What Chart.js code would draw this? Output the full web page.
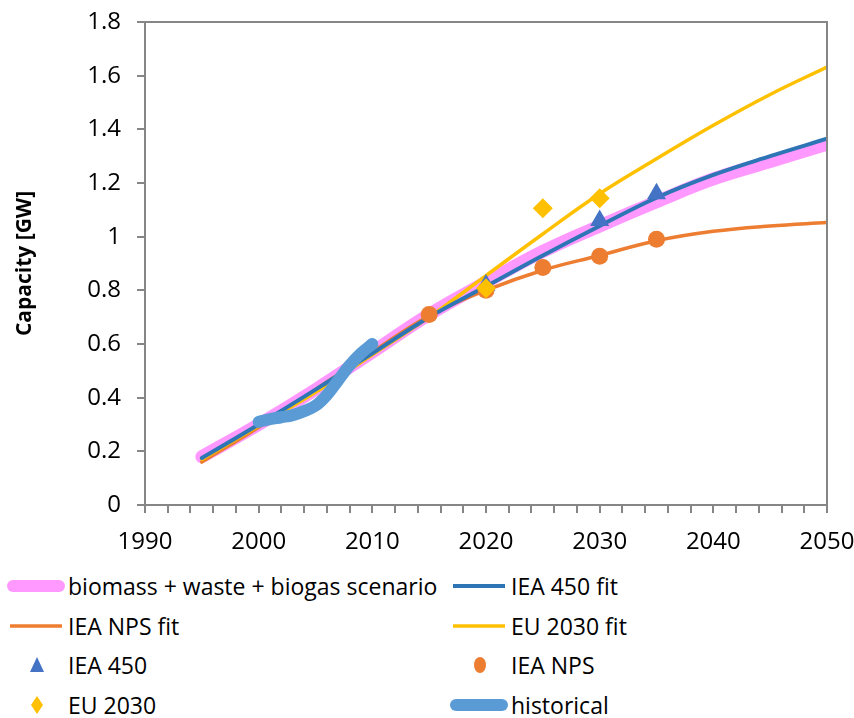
<!DOCTYPE html>
<html>
<head>
<meta charset="utf-8">
<script src="https://cdn.jsdelivr.net/npm/chart.js@4"></script>
<style>
  body { margin: 0; background: #fff; width: 854px; height: 718px; overflow: hidden; font-family: "Open Sans", sans-serif; }
  #wrap { position: absolute; left: 0; top: 0; width: 854px; height: 560px; }
  #legend { position: absolute; left: 0; top: 566px; width: 854px; }
  .item { position: absolute; height: 40px; display: flex; align-items: center; font-size: 23px; color: #000; white-space: nowrap; }
  .item svg { flex: none; }
</style>
</head>
<body>
<div id="wrap"><canvas id="c" width="854" height="560"></canvas></div>
<div id="legend"></div>
<script>
// fitted curves, 5 year steps
var years = [1995, 2000, 2005, 2010, 2015, 2020, 2025, 2030, 2035, 2040, 2045, 2050];
var scenario = [0.18, 0.30, 0.43, 0.57, 0.71, 0.83, 0.945, 1.04, 1.13, 1.215, 1.28, 1.345];
var iea450Fit = [0.175, 0.30, 0.43, 0.565, 0.70, 0.815, 0.93, 1.04, 1.145, 1.23, 1.30, 1.365];
var ieaNpsFit = [0.16, 0.29, 0.43, 0.57, 0.705, 0.80, 0.875, 0.93, 0.985, 1.02, 1.04, 1.053];
var eu2030Fit = [0.17, 0.295, 0.42, 0.56, 0.70, 0.855, 1.01, 1.16, 1.29, 1.415, 1.53, 1.632];

// scenario points
var iea450Years = [2020, 2030, 2035];
var iea450 = [0.82, 1.06, 1.16];
var ieaNpsYears = [2015, 2020, 2025, 2030, 2035];
var ieaNps = [0.71, 0.80, 0.885, 0.927, 0.99];
var eu2030Years = [2020, 2025, 2030];
var eu2030 = [0.808, 1.106, 1.143];

var histYears = [2000, 2001, 2002, 2003, 2004, 2005, 2006, 2007, 2008, 2009, 2010];
var historical = [0.31, 0.32, 0.327, 0.335, 0.35, 0.37, 0.41, 0.465, 0.52, 0.565, 0.60];

function pts(xs, ys) {
  return xs.map(function (x, i) { return { x: x, y: ys[i] }; });
}

var PINK = '#ff99ff', BLUE = '#2e75b6', ORANGE = '#ed7d31', YELLOW = '#ffc000', TRI = '#4472c4', HIST = '#5b9bd5';
var AXIS = '#868686';

var boxPlugin = {
  id: 'box',
  afterDatasetsDraw: function (chart) {
    var a = chart.chartArea, ctx = chart.ctx;
    ctx.save();
    ctx.strokeStyle = AXIS;
    ctx.lineWidth = 2;
    ctx.beginPath();
    ctx.moveTo(a.left, a.top);
    ctx.lineTo(a.right, a.top);
    ctx.lineTo(a.right, a.bottom);
    ctx.stroke();
    ctx.restore();
  }
};

function noOverflow(s) {
  s.paddingTop = 0; s.paddingBottom = 0; s.paddingLeft = 0; s.paddingRight = 0;
}

var lineDefaults = { pointRadius: 0, fill: false, tension: 0.4, borderCapStyle: 'round' };

new Chart(document.getElementById('c'), {
  type: 'line',
  data: {
    datasets: [
      Object.assign({ label: 'biomass + waste + biogas scenario', data: pts(years, scenario), borderColor: PINK, borderWidth: 13, order: 10 }, lineDefaults),
      Object.assign({ label: 'IEA 450 fit', data: pts(years, iea450Fit), borderColor: BLUE, borderWidth: 4, order: 6 }, lineDefaults),
      Object.assign({ label: 'IEA NPS fit', data: pts(years, ieaNpsFit), borderColor: ORANGE, borderWidth: 3.5, order: 8 }, lineDefaults),
      Object.assign({ label: 'EU 2030 fit', data: pts(years, eu2030Fit), borderColor: YELLOW, borderWidth: 3.5, order: 7 }, lineDefaults),
      { label: 'IEA 450', data: pts(iea450Years, iea450), showLine: false, pointStyle: 'triangle', pointRadius: 11, backgroundColor: TRI, borderColor: TRI, borderWidth: 0, order: 3 },
      { label: 'IEA NPS', data: pts(ieaNpsYears, ieaNps), showLine: false, pointStyle: 'circle', pointRadius: 8.5, backgroundColor: ORANGE, borderColor: ORANGE, borderWidth: 0, order: 4 },
      { label: 'EU 2030', data: pts(eu2030Years, eu2030), showLine: false, pointStyle: 'rectRot', pointRadius: 10, backgroundColor: YELLOW, borderColor: YELLOW, borderWidth: 0, order: 2 },
      Object.assign({ label: 'historical', data: pts(histYears, historical), borderColor: HIST, borderWidth: 12, order: 1 }, lineDefaults)
    ]
  },
  options: {
    responsive: false,
    animation: false,
    layout: { padding: { top: 22, right: 27, left: 0, bottom: 0 } },
    plugins: { legend: { display: false }, tooltip: { enabled: false } },
    scales: {
      x: {
        type: 'linear', min: 1990, max: 2050,
        grid: { drawOnChartArea: false, color: AXIS, tickColor: AXIS, tickLength: 8, lineWidth: 2 },
        border: { color: AXIS, width: 2 },
        ticks: {
          stepSize: 2, autoSkip: false, maxRotation: 0, color: '#000', padding: 15,
          font: { family: 'Open Sans', size: 24 },
          callback: function (v) { return v % 10 === 0 ? String(v) : ''; }
        },
        afterFit: function (s) { s.height = 55; noOverflow(s); }
      },
      y: {
        min: 0, max: 1.8,
        grid: { drawOnChartArea: false, color: AXIS, tickColor: AXIS, tickLength: 8, lineWidth: 2 },
        border: { color: AXIS, width: 2 },
        ticks: {
          stepSize: 0.2, color: '#000', padding: 16,
          font: { family: 'Open Sans', size: 24 },
          callback: function (v) { return String(Math.round(v * 10) / 10); }
        },
        title: { display: true, text: 'Capacity [GW]', color: '#000', font: { family: 'Open Sans', size: 21, weight: 'bold' }, padding: { top: 12, bottom: 0 } },
        afterFit: function (s) { s.width = 145; noOverflow(s); }
      }
    }
  },
  plugins: [boxPlugin]
});

// legend
var legendItems = [
  { text: 'biomass + waste + biogas scenario', kind: 'line', color: PINK, w: 12, col: 0, row: 0 },
  { text: 'IEA 450 fit', kind: 'line', color: BLUE, w: 4, col: 1, row: 0 },
  { text: 'IEA NPS fit', kind: 'line', color: ORANGE, w: 3.5, col: 0, row: 1 },
  { text: 'EU 2030 fit', kind: 'line', color: YELLOW, w: 3.5, col: 1, row: 1 },
  { text: 'IEA 450', kind: 'tri', color: TRI, col: 0, row: 2 },
  { text: 'IEA NPS', kind: 'circle', color: ORANGE, col: 1, row: 2 },
  { text: 'EU 2030', kind: 'diamond', color: YELLOW, col: 0, row: 3 },
  { text: 'historical', kind: 'line', color: HIST, w: 12, col: 1, row: 3 }
];
var legend = document.getElementById('legend');
legendItems.forEach(function (it) {
  var d = document.createElement('div');
  d.className = 'item';
  d.style.left = (it.col === 0 ? 6 : 449) + 'px';
  d.style.top = (it.row * 39.5) + 'px';
  var s = '<svg width="62" height="24" viewBox="0 0 62 24">';
  if (it.kind === 'line') {
    var cap = it.w > 6 ? 'round' : 'butt';
    var inset = it.w > 6 ? it.w / 2 + 1 : 4;
    s += '<line x1="' + inset + '" y1="12" x2="' + (60 - inset) + '" y2="12" stroke="' + it.color + '" stroke-width="' + it.w + '" stroke-linecap="' + cap + '"/>';
  } else if (it.kind === 'tri') {
    s += '<polygon points="31,4 38,19 24,19" fill="' + it.color + '"/>';
  } else if (it.kind === 'circle') {
    s += '<ellipse cx="31" cy="12" rx="6" ry="8" fill="' + it.color + '"/>';
  } else {
    s += '<polygon points="31,3 37,12 31,21 25,12" fill="' + it.color + '"/>';
  }
  s += '</svg>';
  d.innerHTML = s + '<span>' + it.text + '</span>';
  legend.appendChild(d);
});
</script>
</body>
</html>
